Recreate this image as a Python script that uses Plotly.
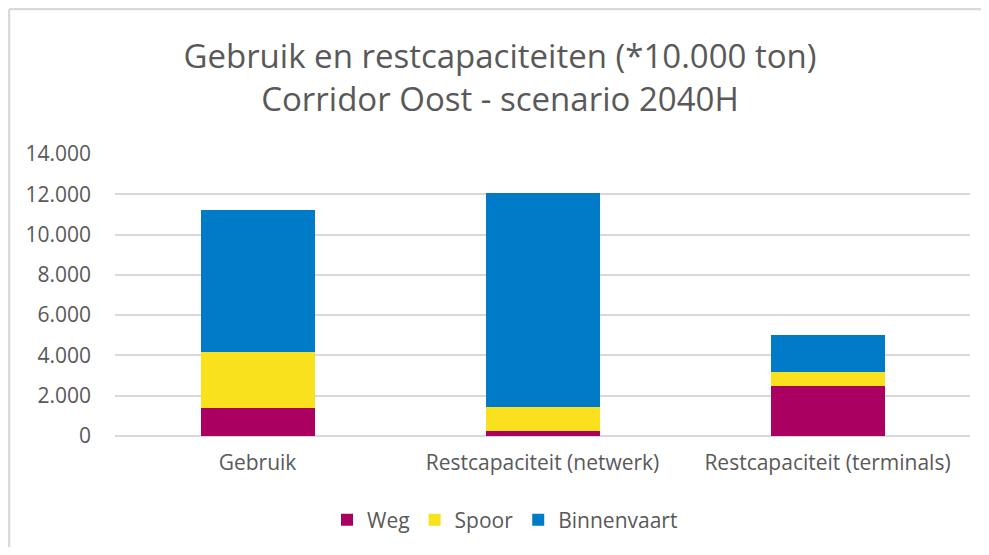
import plotly.graph_objects as go

categories = ["Gebruik", "Restcapaciteit (netwerk)", "Restcapaciteit (terminals)"]
weg = [1370, 250, 2470]
spoor = [2790, 1190, 700]
binnenvaart = [7040, 10620, 1830]

series = [
    ("Weg", weg, "#A90061"),
    ("Spoor", spoor, "#F9E11E"),
    ("Binnenvaart", binnenvaart, "#007BC7"),
]

# page body adds an 8px margin on every side; keep the figure inside the window
W, H = 973, 539
L, T, PW, PH = 107, 146, 855, 282

fig = go.Figure()
for name, vals, color in series:
    fig.add_trace(go.Bar(
        x=categories, y=vals, name=name,
        marker=dict(color=color, line=dict(width=0)),
        width=0.4,
    ))

# chart frame: only its top and left edges are inside the picture
left_x = (1 - L) / PW
top_y = (T + PH - 1) / PH
frame = dict(color="#D9D9D9", width=2.5)

fig.update_layout(
    barmode="stack",
    width=W, height=H,
    paper_bgcolor="white", plot_bgcolor="white",
    separators=",.",
    font=dict(family="Open Sans, sans-serif", color="#595959", size=21),
    title=dict(
        text="Gebruik en restcapaciteiten (*10.000 ton)<br>Corridor Oost - scenario 2040H",
        x=492 / W, xref="container", xanchor="center", y=1 - 60 / H, yanchor="middle",
        font=dict(size=33, color="#595959"),
    ),
    margin=dict(l=L, r=W - L - PW, t=T, b=H - T - PH, autoexpand=False),
    xaxis=dict(showgrid=False, showline=False, ticks="",
               tickfont=dict(size=21), ticklabelstandoff=12),
    yaxis=dict(
        range=[0, 14000], dtick=2000, tickformat=",d",
        showgrid=True, gridcolor="#D9D9D9", gridwidth=1.5,
        zeroline=True, zerolinecolor="#D9D9D9", zerolinewidth=1.5,
        tickfont=dict(size=21), ticks="", ticklabelstandoff=23,
    ),
    legend=dict(
        orientation="h", x=497 / W, xref="container", xanchor="center",
        y=1 - 512 / H, yref="container", yanchor="middle",
        font=dict(size=21), traceorder="normal",
    ),
    shapes=[
        dict(type="line", xref="paper", yref="paper",
             x0=left_x, x1=(W - L) / PW, y0=top_y, y1=top_y, line=frame),
        dict(type="line", xref="paper", yref="paper",
             x0=left_x, x1=left_x, y0=-(H - T - PH) / PH, y1=top_y, line=frame),
    ],
)

fig.write_html("out.html")
